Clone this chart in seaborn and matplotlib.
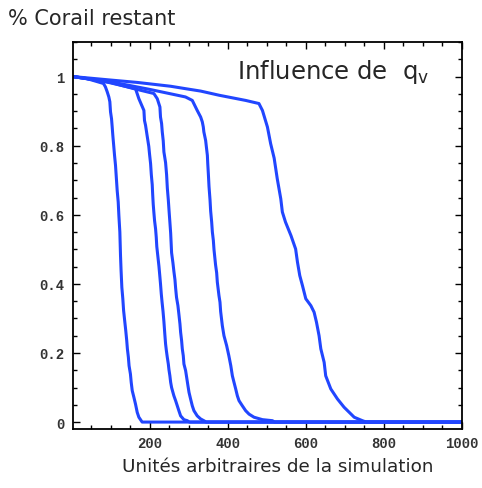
import matplotlib
matplotlib.use("Agg")
import matplotlib.pyplot as plt
import seaborn as sns
import pandas as pd
from matplotlib.ticker import MultipleLocator

sns.set_style("ticks")
plt.rcParams["font.family"] = ["DejaVu Sans"]

# Remaining coral fraction over simulation time, one run per value of q_v
t1 = [4, 40, 82, 87, 91.5, 95.7, 98.3, 100, 102.6, 104.3, 105.9, 108.5, 110.3, 112.8, 114.5,
      117.1, 119.7, 121.4, 123.9, 125.6, 127, 129, 131.5, 133.5, 136.5, 139, 141.5, 143.2,
      145.7, 147.5, 151, 153, 155.6, 159.8, 164, 168.4, 172.6, 181, 1000]
c1 = [1.0, 0.994, 0.98, 0.97, 0.956, 0.941, 0.927, 0.898, 0.878, 0.854, 0.83, 0.796, 0.772,
      0.743, 0.714, 0.67, 0.637, 0.598, 0.55, 0.482, 0.44, 0.39, 0.357, 0.323, 0.291, 0.265,
      0.236, 0.212, 0.188, 0.163, 0.139, 0.115, 0.091, 0.072, 0.052, 0.028, 0.014, 0.0, 0.0]

t2 = [4, 80, 164, 172.6, 185.5, 187, 189.7, 194, 198, 200, 202.6, 204.5, 206.8, 208, 209.4,
      211, 212.8, 215.4, 217.1, 218.5, 221, 224, 226, 228, 230, 232, 234.5, 236.7, 239, 241,
      243, 245.3, 248, 249.6, 252, 254, 256.4, 259.8, 262.3, 266.7, 271, 275, 279.5, 288,
      296.7, 302, 1000]
c2 = [1.0, 0.987, 0.965, 0.936, 0.902, 0.873, 0.859, 0.827, 0.798, 0.775, 0.748, 0.716, 0.687,
      0.658, 0.63, 0.607, 0.583, 0.559, 0.535, 0.508, 0.482, 0.451, 0.426, 0.4, 0.371, 0.347,
      0.32, 0.291, 0.255, 0.226, 0.207, 0.188, 0.168, 0.152, 0.134, 0.115, 0.10, 0.086, 0.076,
      0.062, 0.047, 0.033, 0.018, 0.007, 0.004, 0.0, 0.0]

t3 = [4, 100, 160, 211, 219.7, 226.5, 228, 230.8, 232.5, 235, 236.7, 241, 243.6, 245.5, 248,
      250, 252, 254, 256.4, 259.8, 262.3, 265, 266.7, 269, 272.6, 275, 277.8, 279.5, 282,
      283.8, 286.3, 288, 292.3, 294.9, 298.3, 301, 305, 309.4, 313.6, 322, 330.8, 339, 345, 1000]
c3 = [1.0, 0.983, 0.965, 0.951, 0.936, 0.912, 0.883, 0.864, 0.84, 0.814, 0.782, 0.751, 0.716,
      0.677, 0.643, 0.61, 0.579, 0.547, 0.49, 0.461, 0.436, 0.412, 0.388, 0.361, 0.337, 0.313,
      0.284, 0.26, 0.236, 0.212, 0.192, 0.168, 0.149, 0.13, 0.105, 0.086, 0.067, 0.047, 0.033,
      0.018, 0.009, 0.004, 0.0, 0.0]

t4 = [4, 100, 200, 292, 309.4, 322, 330.8, 335, 337.6, 339, 343.6, 345.5, 348, 349, 350.5,
      352.2, 354.8, 356.4, 359, 360.8, 363.3, 365, 369, 371.8, 373.5, 377.7, 380.3, 382,
      386.3, 390.5, 397.4, 403, 408, 412, 416.2, 420.5, 424.8, 429, 437.6, 446, 454.7,
      467.5, 489, 514.6, 520, 1000]
c4 = [1.0, 0.985, 0.963, 0.941, 0.931, 0.902, 0.883, 0.869, 0.854, 0.84, 0.815, 0.796, 0.772,
      0.748, 0.719, 0.682, 0.643, 0.611, 0.579, 0.55, 0.526, 0.499, 0.455, 0.432, 0.405, 0.366,
      0.347, 0.32, 0.279, 0.25, 0.221, 0.192, 0.163, 0.134, 0.115, 0.096, 0.076, 0.062,
      0.047, 0.033, 0.023, 0.014, 0.007, 0.004, 0.0, 0.0]

t5 = [4, 100, 169, 254, 292, 331, 378, 446, 480, 489, 501.8, 510, 519, 527, 536, 540, 548, 562,
      574, 578.7, 584.6, 591.5, 600, 613, 621.3, 627.4, 634, 638.5, 647, 651, 664, 681, 698,
      724, 745, 755, 1000]
c5 = [1.0, 0.99, 0.983, 0.972, 0.965, 0.958, 0.946, 0.931, 0.922, 0.902, 0.854, 0.806, 0.764,
      0.704, 0.646, 0.608, 0.579, 0.54, 0.501, 0.463, 0.424, 0.395, 0.357, 0.337, 0.318, 0.289,
      0.25, 0.212, 0.173, 0.134, 0.096, 0.067, 0.043, 0.014, 0.004, 0.0, 0.0]

series = [(t1, c1), (t2, c2), (t3, c3), (t4, c4), (t5, c5)]

x_major = [200, 400, 600, 800, 1000]
y_major = [0, 0.2, 0.4, 0.6, 0.8, 1]
y_labels = ["0", "0.2", "0.4", "0.6", "0.8", "1"]

blue = "#2146ff"

fig = plt.figure(figsize=(4.82, 4.89), dpi=100)
ax = fig.add_axes([0.1515, 0.1207, 0.807, 0.7913])

for t, c in series:
    df = pd.DataFrame({"t": t, "c": c})
    sns.lineplot(data=df, x="t", y="c", ax=ax, color=blue, linewidth=2.2,
                 estimator=None, sort=False)

ax.set_xlim(4, 1000)
ax.set_ylim(-0.02, 1.10)

ax.set_xticks(x_major)
ax.set_xticklabels([str(v) for v in x_major])
ax.set_yticks(y_major)
ax.set_yticklabels(y_labels)
ax.xaxis.set_minor_locator(MultipleLocator(50))
ax.yaxis.set_minor_locator(MultipleLocator(0.05))

ax.tick_params(which="both", direction="in", top=True, right=True, color="black")
ax.tick_params(which="major", length=5, width=1)
ax.tick_params(which="minor", length=3, width=1)
for lab in ax.get_xticklabels() + ax.get_yticklabels():
    lab.set_family("Liberation Mono")
    lab.set_fontsize(10)
    lab.set_fontweight("bold")
    lab.set_color("#333333")
ax.tick_params(axis="x", pad=5)
ax.tick_params(axis="y", pad=6)

for s in ax.spines.values():
    s.set_linewidth(1.3)
    s.set_color("black")

ax.set_xlabel("")
ax.set_ylabel("")

fig.text(0.017, 0.961, "% Corail restant", fontsize=15, ha="left", va="center")
fig.text(0.577, 0.045, "Unités arbitraires de la simulation", fontsize=13.2, ha="center", va="center")
ax.text(0.422, 0.925, r"Influence de  q$_{\rm v}$", transform=ax.transAxes,
        fontsize=17.5, ha="left", va="center")

fig.savefig("out.png", dpi=100)
